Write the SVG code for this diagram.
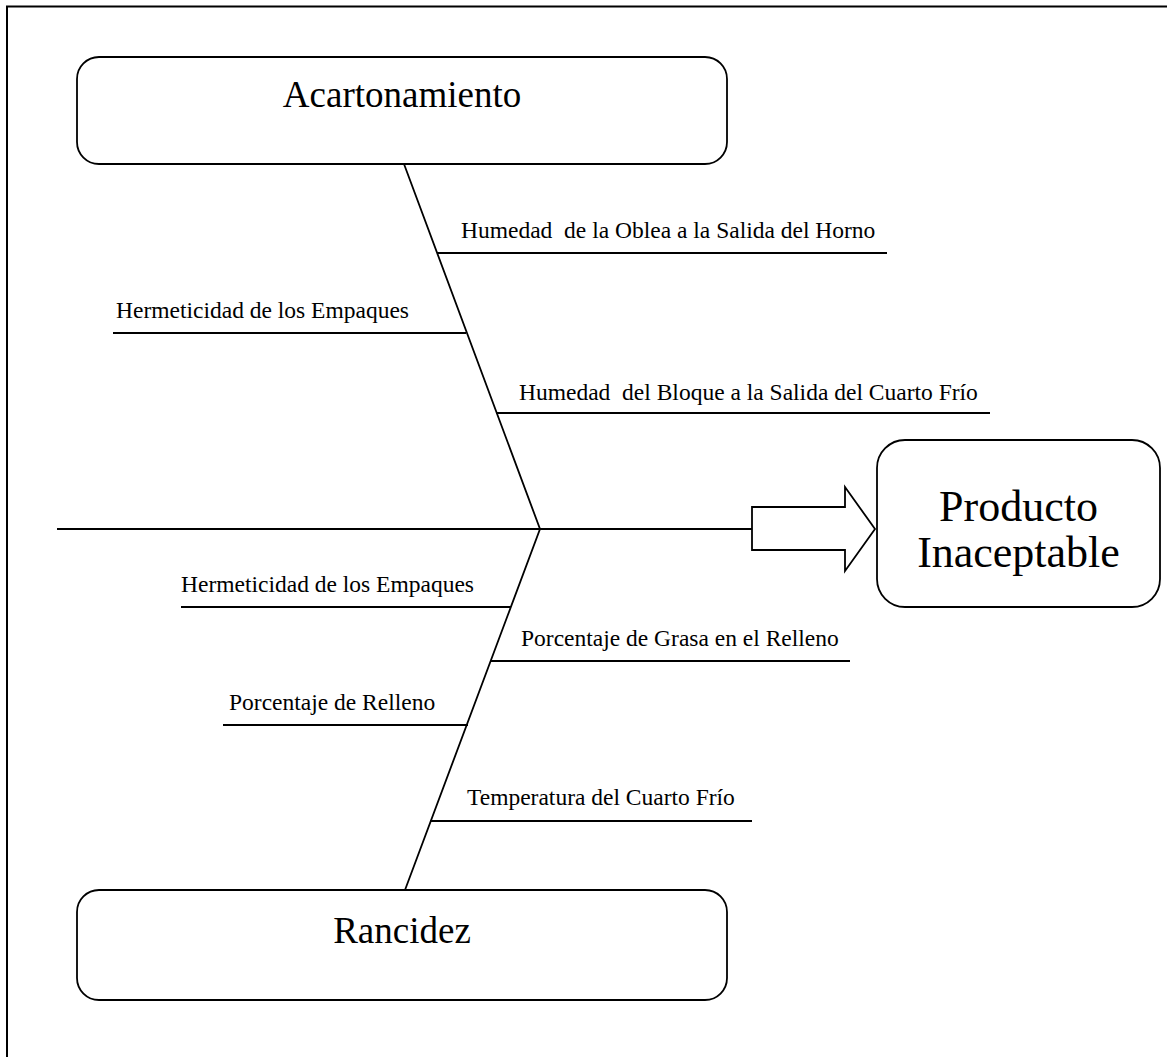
<svg xmlns="http://www.w3.org/2000/svg" width="1167" height="1057" viewBox="0 0 1167 1057">
<style>
.ln{stroke:#000;stroke-width:1.8;fill:none}
.box{fill:#fff;stroke:#000;stroke-width:1.8}
.t{font-family:"Liberation Serif","Times New Roman",serif;fill:#000;white-space:pre}
.s{font-size:23.5px}
.b{font-size:37px;text-anchor:middle}
.p{font-size:44px;text-anchor:middle}
</style>
<rect x="0" y="0" width="1167" height="1057" fill="#fff"/>
<rect id="frame" x="7" y="6.5" width="1200" height="1100" fill="none" stroke="#000" stroke-width="2"/>
<g id="connectors">
<polyline class="ln" points="404,164 540,529 405,890"/>
<line class="ln" x1="57" y1="529" x2="752" y2="529"/>
<line class="ln" x1="437" y1="253" x2="887" y2="253"/>
<line class="ln" x1="113" y1="333" x2="466" y2="333"/>
<line class="ln" x1="496" y1="413" x2="990" y2="413"/>
<line class="ln" x1="181" y1="607" x2="511" y2="607"/>
<line class="ln" x1="491" y1="661" x2="850" y2="661"/>
<line class="ln" x1="223" y1="725" x2="468" y2="725"/>
<line class="ln" x1="430" y1="821" x2="752" y2="821"/>
<polygon class="ln" points="752,507 845,507 845,487 875,529 845,571 845,550 752,550" fill="#fff"/>
</g>
<g id="labels">
<text class="t s" x="461" y="238">Humedad  de la Oblea a la Salida del Horno</text>
<text class="t s" x="116" y="318">Hermeticidad de los Empaques</text>
<text class="t s" x="519" y="400">Humedad  del Bloque a la Salida del Cuarto Frío</text>
<text class="t s" x="181" y="592">Hermeticidad de los Empaques</text>
<text class="t s" x="521" y="646">Porcentaje de Grasa en el Relleno</text>
<text class="t s" x="229" y="710">Porcentaje de Relleno</text>
<text class="t s" x="467" y="805">Temperatura del Cuarto Frío</text>
</g>
<g id="acartonamiento">
<rect class="box" x="77" y="57" width="650" height="107" rx="22"/>
<text class="t b" x="402" y="107">Acartonamiento</text>
</g>
<g id="rancidez">
<rect class="box" x="77" y="890" width="650" height="110" rx="22"/>
<text class="t b" x="402" y="943">Rancidez</text>
</g>
<g id="producto">
<rect class="box" x="877" y="440" width="283" height="167" rx="28"/>
<text class="t p" x="1018.5" y="521">Producto</text>
<text class="t p" x="1018.5" y="567">Inaceptable</text>
</g>
</svg>
